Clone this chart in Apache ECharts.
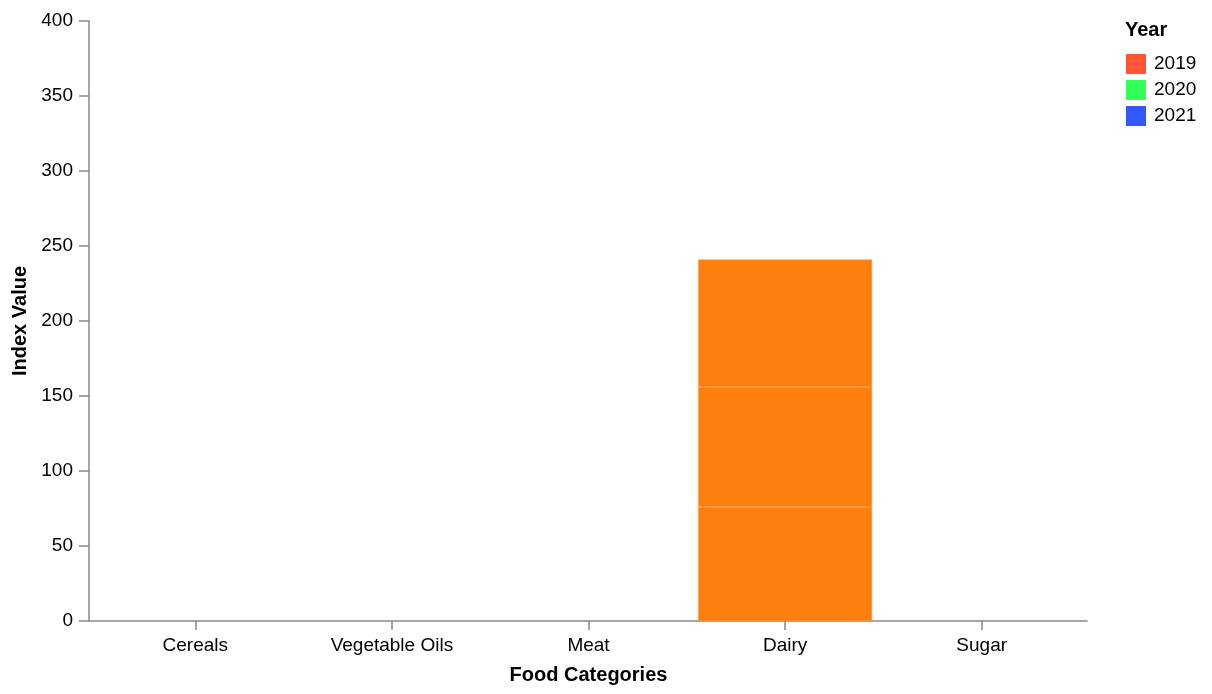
<!DOCTYPE html>
<html>
<head>
<meta charset="utf-8">
<script src="https://cdn.jsdelivr.net/npm/echarts@6/dist/echarts.min.js"></script>
<style>
  html, body { margin: 0; padding: 0; background: #fff; }
  #chart { width: 1212px; height: 694px; }
</style>
</head>
<body>
<div id="chart"></div>
<script>
const categories = ["Cereals", "Vegetable Oils", "Meat", "Dairy", "Sugar"];
const years = ["2019", "2020", "2021"];
const values2019 = [null, null, null, 76, null];
const values2020 = [null, null, null, 80, null];
const values2021 = [null, null, null, 85, null];
const yTicks = [0, 50, 100, 150, 200, 250, 300, 350, 400];
const legendColors = ["#ff5733", "#33ff57", "#3357ff"];
const barColor = "#ff7f0e";

const seriesValues = [values2019, values2020, values2021];
const FONT = "'Liberation Sans', Arial, Helvetica, sans-serif";
const axisGray = "#888888";
const nameStyle = { fontFamily: FONT, fontSize: 20, fontWeight: 'bold', color: '#000' };

const chart = echarts.init(document.getElementById('chart'), null, { renderer: 'canvas' });

const series = years.map((y, k) => ({
  name: y,
  type: 'bar',
  stack: 'total',
  xAxisIndex: 1,
  yAxisIndex: 1,
  barWidth: 174,
  data: seriesValues[k],
  itemStyle: {
    color: barColor,
    borderColor: '#fd9640',
    borderWidth: 0.6
  },
  emphasis: { disabled: true }
}));

chart.setOption({
  animation: false,
  textStyle: { fontFamily: FONT },
  title: {
    text: 'Year',
    left: 1125,
    top: 20,
    padding: 0,
    textStyle: nameStyle
  },
  legend: {
    orient: 'vertical',
    left: 1126,
    top: 54,
    padding: 0,
    itemWidth: 20,
    itemHeight: 20,
    itemGap: 6,
    icon: 'rect',
    selectedMode: false,
    textStyle: { fontFamily: FONT, fontSize: 19, color: '#000', padding: [0, 0, 0, 3] },
    data: years.map((y, k) => ({
      name: y,
      itemStyle: { color: legendColors[k], borderWidth: 0 }
    }))
  },
  grid: [
    { left: 89, right: 125, top: 21, bottom: 73, containLabel: false },
    { left: 97, right: 132, top: 21, bottom: 73, containLabel: false }
  ],
  xAxis: [
    {
      gridIndex: 0,
      type: 'value',
      min: 0, max: 1,
      axisLine: { show: true, onZero: false, lineStyle: { color: axisGray, width: 1.5 } },
      axisTick: { show: false },
      axisLabel: { show: false },
      splitLine: { show: false }
    },
    {
      gridIndex: 1,
      type: 'category',
      data: categories,
      boundaryGap: true,
      name: 'Food Categories',
      nameLocation: 'middle',
      nameGap: 44,
      nameTextStyle: nameStyle,
      axisLine: { show: false },
      axisTick: { show: true, alignWithLabel: true, length: 9, lineStyle: { color: axisGray, width: 1.5 } },
      axisLabel: { fontFamily: FONT, fontSize: 19, color: '#000', margin: 15, interval: 0 },
      splitLine: { show: false }
    }
  ],
  yAxis: [
    {
      gridIndex: 0,
      type: 'value',
      min: 0,
      max: 400,
      interval: 50,
      name: 'Index Value',
      nameLocation: 'middle',
      nameGap: 56,
      nameRotate: 90,
      nameTextStyle: nameStyle,
      axisLine: { show: true, onZero: false, lineStyle: { color: axisGray, width: 1.5 } },
      axisTick: { show: true, length: 10, lineStyle: { color: axisGray, width: 1.5 } },
      axisLabel: {
        formatter: v => (yTicks.indexOf(v) >= 0 ? String(v) : ''),
        fontFamily: FONT, fontSize: 19, color: '#000', margin: 16
      },
      splitLine: { show: false }
    },
    {
      gridIndex: 1,
      type: 'value',
      min: 0,
      max: 400,
      interval: 50,
      show: false,
      splitLine: { show: false }
    }
  ],
  series: series
});
</script>
</body>
</html>
